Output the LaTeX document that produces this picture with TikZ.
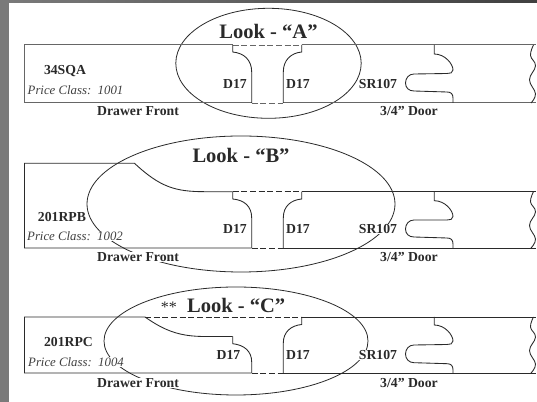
\documentclass[tikz,border=0pt]{standalone}
\usepackage{fontspec}
\setmainfont{Liberation Serif}
\definecolor{barl}{HTML}{7A7A7A}
\definecolor{ink}{HTML}{2A2A2A}
\definecolor{inka}{HTML}{666666}
\tikzset{
  lbl/.style={inner sep=0.3pt,fill=white,text=ink},
  part/.style={lbl,font=\bfseries\fontsize{10.3}{11}\selectfont},
  price/.style={lbl,font=\itshape\fontsize{9.6}{10}\selectfont,text=black!75},
  look/.style={inner sep=0pt,text=ink,font=\bfseries\fontsize{15.4}{17}\selectfont},
  bub/.style={draw=ink,line width=0.6pt},
  prof/.style={draw=ink,line width=0.65pt},
  profa/.style={draw=inka,line width=0.75pt},
  dashline/.style={draw=ink,line width=0.6pt,dash pattern=on 4.5pt off 2pt}
}
\newcommand{\doorprofile}[7]{%
  \draw[#1] (434.3,#2) -- (434.3,#3) .. controls (445,#3) and (453,#4-9) .. (453,#4-3)
    .. controls (453,#4) and (450,#4+.5) .. (447,#4+.5) -- (414,#5-9)
    .. controls (409,#5-9) and (405.5,#5-5) .. (405.5,#5)
    .. controls (405.5,#5+5) and (409,#6) .. (414,#6) -- (447,#6+1)
    .. controls (451,#6+1) and (453,#6+3) .. (453,#6+7) -- (453,#7);
}
\newcommand{\wavy}[3]{%
  \draw[#1] plot[smooth,tension=0.7] coordinates {(533.5,#2) (530.5,#2+.18*#3) (535.5,#2+.36*#3) (529.5,#2+.6*#3) (535.5,#2+.84*#3) (531,#2+#3)};
}
\newcommand{\doorlabel}{3/4\symbol{34} Door}
\begin{document}
\begin{tikzpicture}[x=0.75pt,y=-0.75pt]
\useasboundingbox (0,0) rectangle (537,402);
\fill[white] (0,0) rectangle (537,402);
\shade[left color=barl,right color=black!75] (0,0) rectangle (537,3);
\fill[barl] (0,0) rectangle (9,402);

% ---- bubbles
\draw[bub] (268.5,63.3) ellipse [x radius=92.7,y radius=55];
\draw[bub] (241,204) ellipse [x radius=154,y radius=68];
\draw[bub] (236,341) ellipse [x radius=132,y radius=54];

% ---- labels A
\node[look] (lookA) at (268.5,31) {Look - “A”};
\node[part] (codeA) at (65,71) {34SQA};
\node[price] (priceA) at (75.5,90.5) {Price Class:\ \ 1001};
\node[part] (d17Al) at (235,84) {D17};
\node[part] (d17Ar) at (298,84) {D17};
\node[part] (srA) at (378,84) {SR107};
\node[part] (frontA) at (138,111.5) {Drawer Front};
\node[part] (doorA) at (409,111.5) {\doorlabel};

% ---- labels B
\node[look] (lookB) at (241,155) {Look - “B”};
\node[part] (codeB) at (62,217) {201RPB};
\node[price] (priceB) at (75,236.5) {Price Class:\ \ 1002};
\node[part] (d17Bl) at (235,229) {D17};
\node[part] (d17Br) at (298,229) {D17};
\node[part] (srB) at (378,229) {SR107};
\node[part] (frontB) at (138,257) {Drawer Front};
\node[part] (doorB) at (409,257) {\doorlabel};

% ---- labels C
\node[look] (lookC) at (223,305) {{\mdseries\fontsize{12}{13}\selectfont **}\ \ Look - “C”};
\node[part] (codeC) at (68.5,342) {201RPC};
\node[price] (priceC) at (76,362) {Price Class:\ \ 1004};
\node[part] (d17Cl) at (228.5,355) {D17};
\node[part] (d17Cr) at (298,355) {D17};
\node[part] (srC) at (378,355) {SR107};
\node[part] (frontC) at (138,383) {Drawer Front};
\node[part] (doorC) at (409,383) {\doorlabel};

% ---- panel A
\draw[profa] (232.7,45) -- (24.5,45) -- (24.5,103) -- (251.7,103);
\draw[profa] (301.7,45) -- (536,45);
\draw[profa] (283.3,103) -- (536,103);
\draw[dashline,draw=inka] (232.7,45) -- (301.7,45);
\draw[dashline,draw=inka] (251.7,103) -- (283.3,103);
\draw[prof] (232.7,45) -- (232.7,52) .. controls (244,53) and (251.7,60) .. (251.7,72) -- (251.7,103);
\draw[prof] (301.7,45) -- (301.7,52) .. controls (291,53) and (283.3,60) .. (283.3,72) -- (283.3,103);
\doorprofile{prof}{45}{54}{73}{83}{91}{103}
\wavy{prof}{45}{58}

% ---- panel B
\draw[prof] (232.7,191.7) -- (205,191.7) .. controls (175,191.7) and (160,187) .. (134.5,163.3) -- (24.5,163.3) -- (24.5,248) -- (251.7,248);
\draw[prof] (301.7,191.7) -- (536,191.7);
\draw[prof] (283.3,248) -- (536,248);
\draw[dashline] (232.7,191.7) -- (301.7,191.7);
\draw[dashline] (251.7,248) -- (283.3,248);
\draw[prof] (232.7,191.7) -- (232.7,199) .. controls (244,200) and (251.7,206) .. (251.7,218) -- (251.7,248);
\draw[prof] (301.7,191.7) -- (301.7,199) .. controls (291,200) and (283.3,206) .. (283.3,218) -- (283.3,248);
\doorprofile{prof}{191.7}{200.7}{219.5}{229}{237}{248}
\wavy{prof}{191.7}{56.3}

% ---- panel C
\draw[prof] (232.7,336.5) -- (205,336.5) .. controls (180,336.5) and (165,331) .. (145,317) -- (24.5,317) -- (24.5,373) -- (251.7,373);
\draw[prof] (301.7,317) -- (536,317);
\draw[prof] (283.3,373) -- (536,373);
\draw[dashline] (145,317) -- (301.7,317);
\draw[dashline] (251.7,373) -- (283.3,373);
\draw[prof] (232.7,336.5) -- (232.7,343.7) .. controls (244,345) and (251.7,351) .. (251.7,362) -- (251.7,373);
\draw[prof] (301.7,317) -- (301.7,324.5) .. controls (291,325.5) and (283.3,332) .. (283.3,343) -- (283.3,373);
\doorprofile{prof}{317}{325}{344}{354}{362.7}{373}
\wavy{prof}{317}{56}
\end{tikzpicture}
\end{document}
